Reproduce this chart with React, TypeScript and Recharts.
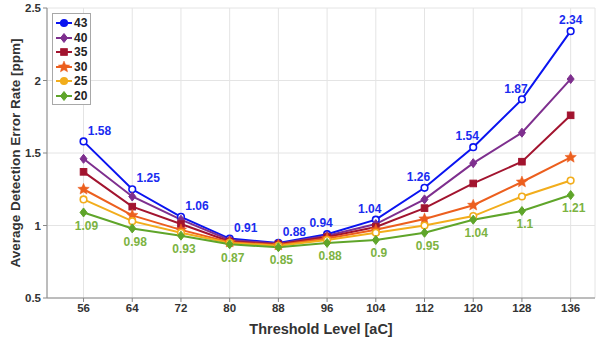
import React from 'react';
import {
  LineChart,
  Line,
  XAxis,
  YAxis,
  CartesianGrid,
  LabelList,
} from 'recharts';

const thresholds = [56, 64, 72, 80, 88, 96, 104, 112, 120, 128, 136];
const rate43 = [1.58, 1.25, 1.06, 0.91, 0.88, 0.94, 1.04, 1.26, 1.54, 1.87, 2.34];
const rate40 = [1.46, 1.2, 1.04, 0.9, 0.875, 0.93, 1.01, 1.18, 1.43, 1.64, 2.01];
const rate35 = [1.37, 1.13, 1.01, 0.89, 0.87, 0.92, 0.99, 1.12, 1.29, 1.44, 1.76];
const rate30 = [1.25, 1.07, 0.97, 0.885, 0.865, 0.91, 0.97, 1.045, 1.14, 1.3, 1.47];
const rate25 = [1.18, 1.03, 0.95, 0.88, 0.86, 0.9, 0.95, 1.0, 1.065, 1.2, 1.31];
const rate20 = [1.09, 0.98, 0.93, 0.87, 0.85, 0.88, 0.9, 0.95, 1.04, 1.1, 1.21];
const yTicks = [0.5, 1, 1.5, 2, 2.5];

const data = thresholds.map((t, i) => ({
  t,
  s43: rate43[i],
  s40: rate40[i],
  s35: rate35[i],
  s30: rate30[i],
  s25: rate25[i],
  s20: rate20[i],
}));

type Shape = 'circle' | 'ring' | 'diamond' | 'square' | 'star';

const series: { key: string; name: string; color: string; shape: Shape }[] = [
  { key: 's43', name: '43', color: '#0a14f0', shape: 'ring' },
  { key: 's40', name: '40', color: '#7e2f8e', shape: 'diamond' },
  { key: 's35', name: '35', color: '#a2142f', shape: 'square' },
  { key: 's30', name: '30', color: '#ec5f1e', shape: 'star' },
  { key: 's25', name: '25', color: '#f2ad1c', shape: 'ring' },
  { key: 's20', name: '20', color: '#5fa52a', shape: 'diamond' },
];

const FONT = '"Liberation Sans", Arial, sans-serif';

const starPath = (cx: number, cy: number, r: number) => {
  const pts: string[] = [];
  for (let k = 0; k < 10; k++) {
    const rad = k % 2 === 0 ? r : r * 0.45;
    const a = -Math.PI / 2 + (k * Math.PI) / 5;
    pts.push(`${cx + rad * Math.cos(a)},${cy + rad * Math.sin(a)}`);
  }
  return `M${pts.join('L')}Z`;
};

const Marker = ({ cx, cy, color, shape }: { cx: number; cy: number; color: string; shape: Shape }) => {
  if (shape === 'ring' || shape === 'circle')
    return (
      <circle cx={cx} cy={cy} r={3.3} stroke={color} strokeWidth={1.6} fill={shape === 'ring' ? '#fff' : color} />
    );
  if (shape === 'diamond')
    return (
      <polygon
        points={`${cx},${cy - 4.5} ${cx + 3.5},${cy} ${cx},${cy + 4.5} ${cx - 3.5},${cy}`}
        fill={color}
        stroke={color}
      />
    );
  if (shape === 'square')
    return <rect x={cx - 3.3} y={cy - 3.3} width={6.6} height={6.6} fill={color} stroke={color} />;
  return <path d={starPath(cx, cy, 6)} fill={color} stroke={color} strokeWidth={0.5} />;
};

const makeDot = (color: string, shape: Shape) => (props: any) => {
  const { cx, cy, index } = props;
  if (cx == null || cy == null) return <g key={`d${index}`} />;
  return (
    <g key={`d${index}`}>
      <Marker cx={cx} cy={cy} color={color} shape={shape} />
    </g>
  );
};

const topLabel = (props: any) => {
  const { x, y, value, index } = props;
  const dx = index < 5 ? 16 : index === thresholds.length - 1 ? 0 : -6;
  return (
    <text
      x={x + dx}
      y={y - 10}
      textAnchor="middle"
      dominantBaseline="middle"
      fill="#1a2cf0"
      fontSize={12}
      fontWeight="bold"
      fontFamily={FONT}
    >
      {String(value)}
    </text>
  );
};

const bottomLabel = (props: any) => {
  const { x, y, value } = props;
  return (
    <text
      x={x + 3}
      y={y + 14}
      textAnchor="middle"
      dominantBaseline="middle"
      fill="#7cb342"
      fontSize={12}
      fontWeight="bold"
      fontFamily={FONT}
    >
      {String(value)}
    </text>
  );
};

const LegendBox = () => (
  <div
    style={{
      position: 'absolute',
      left: 52,
      top: 13,
      border: '1px solid #a8a8a8',
      background: '#fff',
      padding: '2px 3px 1px 2px',
      fontFamily: FONT,
      fontWeight: 'bold',
      fontSize: 12,
      color: '#222',
    }}
  >
    {series.map((s) => (
      <div key={s.key} style={{ display: 'flex', alignItems: 'center', height: 14.5 }}>
        <svg width={18} height={12}>
          <line x1={1} y1={6} x2={17} y2={6} stroke={s.color} strokeWidth={2} />
          <Marker cx={9} cy={6} color={s.color} shape={s.shape === 'ring' ? 'circle' : s.shape} />
        </svg>
        <span style={{ marginLeft: 1 }}>{s.name}</span>
      </div>
    ))}
  </div>
);

export default function App() {
  return (
    <div style={{ position: 'absolute', left: 0, top: 0, width: 600, height: 340, background: '#fff' }}>
      <LineChart width={600} height={340} data={data} margin={{ top: 8, right: 5, bottom: 0, left: 0 }}>
        <CartesianGrid stroke="#e4e4e4" strokeWidth={1} />
        <XAxis
          dataKey="t"
          type="number"
          domain={[50, 140]}
          ticks={thresholds}
          interval={0}
          height={42}
          stroke="#888"
          tickSize={4}
          tick={{ fill: '#333', fontSize: 11.5, fontWeight: 'bold', fontFamily: FONT }}
          label={{
            value: 'Threshold Level [aC]',
            position: 'insideBottom',
            offset: 6,
            fill: '#333',
            fontSize: 14.5,
            fontWeight: 'bold',
            fontFamily: FONT,
          }}
        />
        <XAxis xAxisId="top" orientation="top" dataKey="t" type="number" domain={[50, 140]} height={0} tick={false} stroke="#bbb" />
        <YAxis
          domain={[0.5, 2.5]}
          ticks={yTicks}
          width={47}
          stroke="#888"
          tickSize={4}
          tick={{ fill: '#333', fontSize: 11.5, fontWeight: 'bold', fontFamily: FONT }}
          label={{
            value: 'Average Detection Error Rate [ppm]',
            angle: -90,
            position: 'insideLeft',
            offset: 15,
            style: { textAnchor: 'middle' },
            fill: '#333',
            fontSize: 13.5,
            fontWeight: 'bold',
            fontFamily: FONT,
          }}
        />
        <YAxis yAxisId="right" orientation="right" domain={[0.5, 2.5]} width={0} tick={false} stroke="#bbb" />
        {series.map((s) => (
          <Line
            key={s.key}
            dataKey={s.key}
            name={s.name}
            stroke={s.color}
            strokeWidth={2}
            dot={makeDot(s.color, s.shape)}
            activeDot={false}
            isAnimationActive={false}
          >
            {s.key === 's43' && <LabelList dataKey={s.key} content={topLabel} />}
            {s.key === 's20' && <LabelList dataKey={s.key} content={bottomLabel} />}
          </Line>
        ))}
      </LineChart>
      <LegendBox />
    </div>
  );
}
